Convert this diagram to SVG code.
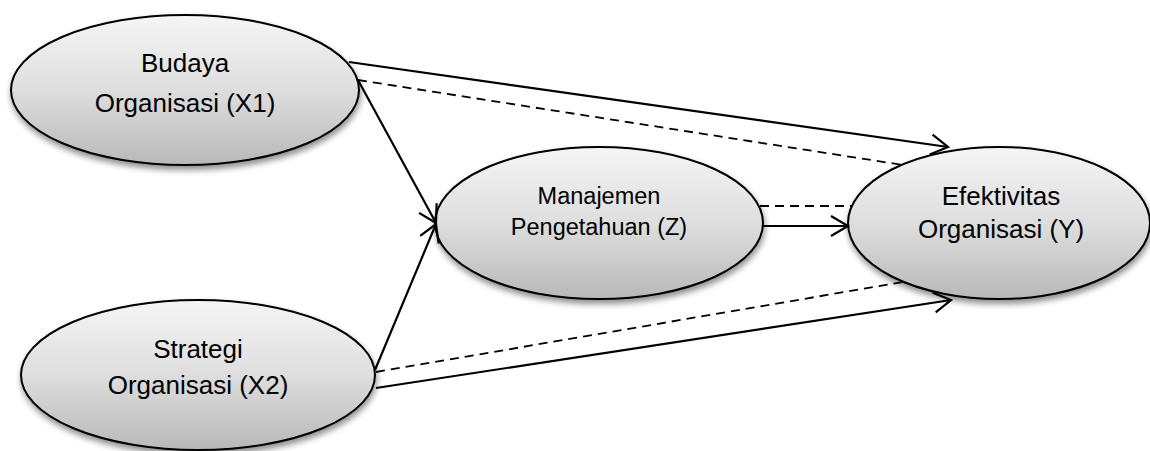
<svg xmlns="http://www.w3.org/2000/svg" width="1150" height="451" viewBox="0 0 1150 451">
  <style>
    .node { fill: url(#g); stroke: #000; stroke-width: 2; filter: url(#sh); }
    .lbl { font-family: "Liberation Sans", Arial, sans-serif; font-size: 26px; fill: #000; text-anchor: middle; }
    .lblz { font-size: 23.5px; }
    .solid { fill: none; stroke: #000; stroke-width: 2.2; marker-end: url(#arr); }
    .dash { fill: none; stroke: #000; stroke-width: 1.8; stroke-dasharray: 9 6; }
  </style>
  <defs>
    <linearGradient id="g" x1="0" y1="0" x2="0" y2="1">
      <stop offset="0" stop-color="#f5f5f5"/>
      <stop offset="0.5" stop-color="#dedede"/>
      <stop offset="1" stop-color="#b8b8b8"/>
    </linearGradient>
    <filter id="sh" x="-10%" y="-10%" width="120%" height="130%">
      <feGaussianBlur in="SourceAlpha" stdDeviation="3"/>
      <feOffset dx="1" dy="4" result="b"/>
      <feComponentTransfer in="b" result="c"><feFuncA type="linear" slope="0.45"/></feComponentTransfer>
      <feMerge><feMergeNode in="c"/><feMergeNode in="SourceGraphic"/></feMerge>
    </filter>
    <marker id="arr" markerUnits="userSpaceOnUse" markerWidth="30" markerHeight="30" refX="0" refY="0" viewBox="-22 -15 30 30" orient="auto" overflow="visible">
      <path d="M -17 -10 L 0 0 L -17 10" fill="none" stroke="#000" stroke-width="2.2"/>
    </marker>
  </defs>

  <g id="node-x1">
    <ellipse class="node" cx="185" cy="90" rx="174" ry="75"/>
    <text class="lbl" x="185" y="72">Budaya</text>
    <text class="lbl" x="185" y="112">Organisasi (X1)</text>
  </g>
  <g id="node-x2">
    <ellipse class="node" cx="198" cy="375" rx="177" ry="75"/>
    <text class="lbl" x="198" y="358">Strategi</text>
    <text class="lbl" x="198" y="394">Organisasi (X2)</text>
  </g>
  <g id="node-z">
    <ellipse class="node" cx="599" cy="223" rx="164" ry="76"/>
    <text class="lbl lblz" x="599" y="204">Manajemen</text>
    <text class="lbl lblz" x="599" y="235">Pengetahuan (Z)</text>
  </g>
  <g id="node-y">
    <ellipse class="node" cx="999" cy="223" rx="151" ry="76"/>
    <text class="lbl" x="1001" y="205">Efektivitas</text>
    <text class="lbl" x="1001" y="238">Organisasi (Y)</text>
  </g>

  <g id="connectors">
    <path class="solid" d="M 349 62 L 948 147"/>
    <path class="dash" d="M 358 80 L 903 165"/>
    <path class="solid" d="M 358 80 L 436 223"/>
    <path class="solid" d="M 375 370 L 436 224"/>
    <path class="solid" d="M 763 226 L 848 226"/>
    <path class="dash" d="M 760 206 L 852 206"/>
    <path class="dash" d="M 376 372 L 903 282"/>
    <path class="solid" d="M 376 388 L 951 300"/>
  </g>
</svg>
